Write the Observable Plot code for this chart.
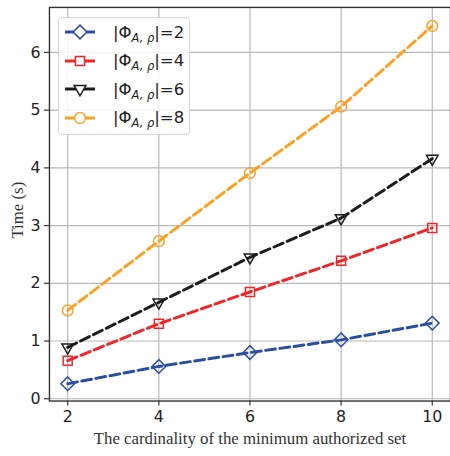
<!DOCTYPE html>
<html>
<head>
<meta charset="utf-8">
<script src="https://cdn.jsdelivr.net/npm/d3@7"></script>
<script src="https://cdn.jsdelivr.net/npm/@observablehq/plot@0.6"></script>
<style>
  html, body { margin: 0; padding: 0; background: #fff; overflow: hidden; }
  #wrap { position: relative; width: 450px; height: 456px; overflow: hidden; }
  #legend {
    position: absolute; left: 58px; top: 17px; width: 132px; height: 118px;
    box-sizing: border-box; border: 1px solid #d6d6d6; border-radius: 4px;
    background: rgba(255,255,255,0.85);
    font-family: "DejaVu Sans", sans-serif; font-size: 16.5px; color: #222;
  }
  .row { position: absolute; left: 6px; height: 24px; display: flex; align-items: center; }
  .row svg { display: block; }
  .row .lab { margin-left: 18px; white-space: nowrap; }
  .row sub { font-size: 11.5px; font-style: italic; vertical-align: -4px; line-height: 0; }
</style>
</head>
<body>
<div id="wrap"><div id="legend"></div></div>
<script>
const xs = [2, 4, 6, 8, 10];
const seriesNames = ["2", "4", "6", "8"];
const phi2 = [0.26, 0.56, 0.80, 1.02, 1.31];
const phi4 = [0.66, 1.30, 1.85, 2.39, 2.96];
const phi6 = [0.89, 1.67, 2.45, 3.13, 4.16];
const phi8 = [1.53, 2.73, 3.91, 5.06, 6.46];
const xTicks = [2, 4, 6, 8, 10];
const yTicks = [0, 1, 2, 3, 4, 5, 6];
const xLabel = "The cardinality of the minimum authorized set";
const yLabel = "Time (s)";

const colors = ["#2a4ea0", "#ef2528", "#1c1c1c", "#fba124"];
const symbols = ["diamond2", "square2", "triangle2", "circle"];
const radii = [6.2, 5.8, 5.6, 5.4];
const rotates = [0, 0, 180, 0];
const values = [phi2, phi4, phi6, phi8];

const series = seriesNames.map((name, i) => ({
  name, color: colors[i], symbol: symbols[i], r: radii[i], rotate: rotates[i],
  data: xs.map((x, j) => ({x, y: values[i][j]}))
}));

const marks = [
  Plot.gridX(xTicks, {stroke: "#b9b9b9", strokeOpacity: 1, strokeWidth: 1.2}),
  Plot.gridY(yTicks, {stroke: "#b9b9b9", strokeOpacity: 1, strokeWidth: 1.2}),
];
for (const s of series) {
  marks.push(Plot.line(s.data, {x: "x", y: "y", stroke: s.color, strokeWidth: 3, strokeDasharray: "10,4.5"}));
}
for (const s of series) {
  marks.push(Plot.dot(s.data, {x: "x", y: "y", stroke: s.color, fill: "none", strokeWidth: 1.5, symbol: () => s.symbol, r: s.r, rotate: s.rotate}));
}
marks.push(
  Plot.frame({stroke: "#333", strokeWidth: 1.4}),
  Plot.axisX(xTicks, {tickSize: 5, tickPadding: 5, stroke: "#333", strokeWidth: 1.2, fontSize: 16, fill: "#222", label: null, tickFormat: d3.format("d")}),
  Plot.axisY(yTicks, {tickSize: 5, tickPadding: 4, stroke: "#333", strokeWidth: 1.2, fontSize: 16, fill: "#222", label: null, tickFormat: d3.format("d")}),
  Plot.text([xLabel], {text: d => d, frameAnchor: "bottom", lineAnchor: "middle", textAnchor: "middle", dy: 38, fontFamily: "Liberation Serif", fontSize: 17, fill: "#333"}),
  Plot.text([yLabel], {text: d => d, frameAnchor: "left", lineAnchor: "middle", textAnchor: "middle", dx: -32, dy: 6, rotate: -90, fontFamily: "Liberation Serif", fontSize: 17, fill: "#333"})
);

const chart = Plot.plot({
  width: 455, height: 456,
  marginLeft: 49.5, marginRight: 0, marginTop: 7, marginBottom: 51,
  style: {fontFamily: "DejaVu Sans", background: "#fff", overflow: "visible"},
  x: {domain: [1.6, 10.4]},
  y: {domain: [-0.04, 6.78]},
  marks
});
const wrap = document.getElementById("wrap");
wrap.insertBefore(chart, wrap.firstChild);

// legend
const legend = document.getElementById("legend");
series.forEach((s, i) => {
  const row = document.createElement("div");
  row.className = "row";
  row.style.top = (2 + i * 28.6) + "px";
  const svg = d3.create("svg").attr("width", 30).attr("height", 24);
  svg.append("line").attr("x1", 0).attr("x2", 30).attr("y1", 12).attr("y2", 12)
    .attr("stroke", s.color).attr("stroke-width", 3);
  const sym = {diamond2: d3.symbolDiamond2, square2: d3.symbolSquare2, triangle2: d3.symbolTriangle2, circle: d3.symbolCircle}[s.symbol];
  svg.append("path").attr("d", d3.symbol(sym, Math.PI * s.r * s.r)())
    .attr("transform", `translate(15,12) rotate(${s.rotate})`)
    .attr("fill", "#fff").attr("stroke", s.color).attr("stroke-width", 1.5);
  row.appendChild(svg.node());
  const lab = document.createElement("span");
  lab.className = "lab";
  lab.innerHTML = `|Φ<sub>A, ρ</sub>|=${s.name}`;
  row.appendChild(lab);
  legend.appendChild(row);
});
</script>
</body>
</html>
